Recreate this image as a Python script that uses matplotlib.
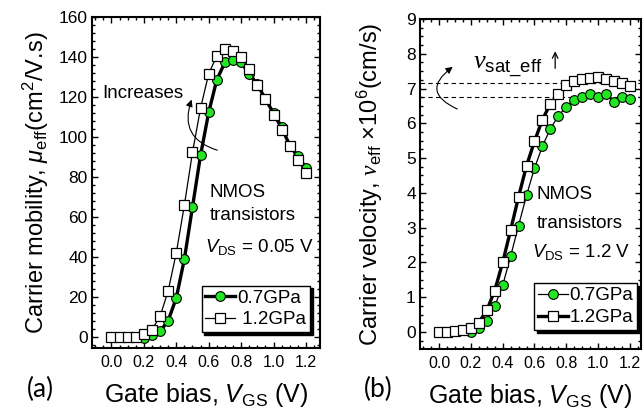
import numpy as np
import matplotlib
matplotlib.use('Agg')
import matplotlib.pyplot as plt
from matplotlib.ticker import MultipleLocator
from matplotlib.patches import FancyArrowPatch

plt.rcParams['font.family'] = ['Liberation Sans', 'DejaVu Sans']
plt.rcParams['mathtext.fontset'] = 'custom'
plt.rcParams['mathtext.rm'] = 'Liberation Sans'
plt.rcParams['mathtext.it'] = 'Liberation Sans:italic'
plt.rcParams['mathtext.sf'] = 'Liberation Sans'
plt.rcParams['mathtext.cal'] = 'Liberation Serif:italic'

green = '#22e622'

# gate bias (V)
vgs_all = [0.0, 0.05, 0.1, 0.15, 0.2, 0.25, 0.3, 0.35, 0.4, 0.45, 0.5, 0.55, 0.6,
           0.65, 0.7, 0.75, 0.8, 0.85, 0.9, 0.95, 1.0, 1.05, 1.1, 1.15, 1.2]
vgs_07 = vgs_all[4:]

# (a) mobility, cm2/V.s
mob_12 = [0, 0, 0, 0, 1.5, 3.7, 10.3, 23.1, 42, 66, 92.3, 114.5, 131.6,
          140.6, 144, 143, 140, 134, 126, 119, 110.8, 103.5, 95.7, 88.4, 81.9]
mob_07 = [-0.5, 1, 2.8, 8.2, 19.5, 39, 65, 91, 112.3, 128.6, 137.3, 138.5,
          137.3, 131.5, 126.3, 119, 112, 105, 95.7, 90.7, 84.4]

# (b) velocity, x1e6 cm/s
vel_12 = [0, 0, 0.02, 0.05, 0.12, 0.27, 0.62, 1.19, 2.0, 2.93, 3.89, 4.78, 5.48,
          6.11, 6.56, 6.83, 7.09, 7.21, 7.27, 7.29, 7.34, 7.28, 7.23, 7.15, 7.07]
vel_07 = [0.0, 0.1, 0.32, 0.74, 1.34, 2.18, 3.06, 3.93, 4.71, 5.34, 5.85, 6.21,
          6.48, 6.67, 6.77, 6.84, 6.76, 6.83, 6.61, 6.77, 6.71]
vsat_lines = [7.17, 6.75]

fig = plt.figure(figsize=(6.43, 4.17), dpi=100)
ax1 = fig.add_axes([0.1431, 0.1655, 0.3546, 0.7937])
ax2 = fig.add_axes([0.6532, 0.1631, 0.3437, 0.7913])


def style(ax, ymaj, ymin):
    ax.xaxis.set_major_locator(MultipleLocator(0.2))
    ax.xaxis.set_minor_locator(MultipleLocator(0.05))
    ax.yaxis.set_major_locator(MultipleLocator(ymaj))
    ax.yaxis.set_minor_locator(MultipleLocator(ymin))
    ax.tick_params(which='both', direction='in', top=True, right=True, width=1.0)
    ax.tick_params(which='major', length=4.5)
    ax.tick_params(which='minor', length=2.5)
    ax.tick_params(axis='y', labelsize=12.5, pad=3)
    ax.tick_params(axis='x', labelsize=11.5, pad=5)
    for s in ax.spines.values():
        s.set_linewidth(1.5)
    ax.set_xticks([0.0, 0.2, 0.4, 0.6, 0.8, 1.0, 1.2])
    ax.set_xticklabels(['0.0', '0.2', '0.4', '0.6', '0.8', '1.0', '1.2'])
    ax.set_xlabel(r'Gate bias, $V_{\mathrm{GS}}$ (V)', fontsize=18, labelpad=8)


def add_legend(ax, anchor):
    leg = ax.legend(loc='lower right', bbox_to_anchor=anchor, borderaxespad=0,
                    fontsize=13.5, frameon=True, fancybox=False, edgecolor='black',
                    shadow={'color': 'black', 'alpha': 1}, handlelength=1.6,
                    handletextpad=0.1, borderpad=0.2, labelspacing=0.25)
    leg.get_frame().set_linewidth(1.0)


# ---- (a) ----
ax = ax1
ax.plot(vgs_07, mob_07, '-o', color='black', lw=2.4, mfc=green, mec='black',
        mew=0.8, ms=7, label='0.7GPa', zorder=3)
ax.plot(vgs_all, mob_12, '-s', color='black', lw=0.9, mfc='white', mec='black',
        mew=0.9, ms=7, label=' 1.2GPa', zorder=4)
ax.set_xlim(-0.12, 1.287)
ax.set_ylim(-5.5, 160)
style(ax, 20, 4)
ax.set_ylabel(r'Carrier mobility, $\mu_{\mathrm{eff}}$(cm$^2$/V.s)', fontsize=17, labelpad=6)
add_legend(ax, (0.956, 0.048))
ax.text(0.605, 72, 'NMOS', fontsize=13.5, va='center', ha='left')
ax.text(0.605, 60.5, 'transistors', fontsize=13.5, va='center', ha='left')
ax.text(0.575, 45, r'$V_{\mathrm{DS}}$ = 0.05 V', fontsize=13.5, va='center', ha='left')
ax.text(-0.055, 122, 'Increases', fontsize=13.5, va='center', ha='left')
ax.add_patch(FancyArrowPatch((0.67, 93), (0.50, 120), connectionstyle='arc3,rad=-0.55',
                             arrowstyle='-|>,head_length=4,head_width=2', color='black',
                             lw=0.8, mutation_scale=1))

# ---- (b) ----
ax = ax2
for yv in vsat_lines:
    ax.axhline(yv, color='black', lw=0.8, ls=(0, (4, 3)), zorder=1)
ax.plot(vgs_07, vel_07, '-o', color='black', lw=0.9, mfc=green, mec='black',
        mew=0.8, ms=7, label='0.7GPa', zorder=3)
ax.plot(vgs_all, vel_12, '-s', color='black', lw=2.4, mfc='white', mec='black',
        mew=0.9, ms=7, label='1.2GPa', zorder=4)
ax.set_xlim(-0.12, 1.27)
ax.set_ylim(-0.49, 9)
style(ax, 1, 0.25)
ax.set_ylabel(r'Carrier velocity, $\mathcal{v}_{\mathrm{eff}}$ $\times$10$^6$(cm/s)',
              fontsize=17, labelpad=15)
add_legend(ax, (0.982, 0.058))
ax.text(0.615, 3.94, 'NMOS', fontsize=13.5, va='center', ha='left')
ax.text(0.615, 3.12, 'transistors', fontsize=13.5, va='center', ha='left')
ax.text(0.585, 2.3, r'$V_{\mathrm{DS}}$ = 1.2 V', fontsize=13.5, va='center', ha='left')
ax.text(0.215, 7.62, r'$\mathcal{v}_{\mathrm{sat\_eff}}$', fontsize=19, va='center', ha='left')
ax.annotate('', xy=(0.73, 8.15), xytext=(0.73, 7.5),
            arrowprops=dict(arrowstyle='->', lw=0.9, color='black'))
ax.add_patch(FancyArrowPatch((0.13, 6.38), (0.10, 7.67), connectionstyle='arc3,rad=-0.9',
                             arrowstyle='-|>,head_length=4,head_width=2', color='black',
                             lw=0.8, mutation_scale=1))

fig.text(0.063, 0.065, '(a)', fontsize=19, family='Lato', ha='center', va='center')
fig.text(0.588, 0.065, '(b)', fontsize=19, family='Lato', ha='center', va='center')

fig.savefig('out.png', dpi=100)
